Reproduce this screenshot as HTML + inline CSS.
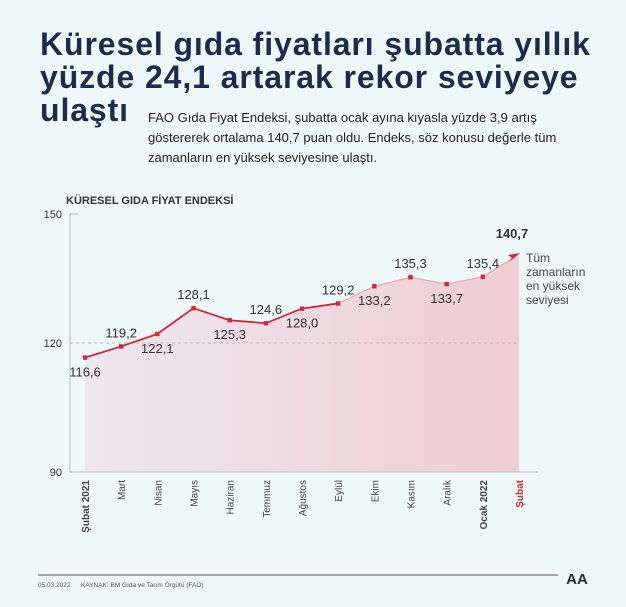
<!DOCTYPE html>
<html><head><meta charset="utf-8"><style>
body{margin:0;width:626px;height:607px;background:#eef8f8;font-family:"Liberation Sans",sans-serif;overflow:hidden;position:relative}
#title{position:absolute;left:40px;top:28px;font-size:32px;font-weight:bold;color:#1d2b4c;line-height:33px;letter-spacing:0.9px;white-space:nowrap}
#sub{position:absolute;left:148px;top:108px;font-size:13px;color:#222;line-height:20px;width:418px}
</style></head><body>
<div id="title">Küresel gıda fiyatları şubatta yıllık<br>yüzde 24,1 artarak rekor seviyeye<br>ulaştı</div>
<div id="sub">FAO Gıda Fiyat Endeksi, şubatta ocak ayına kıyasla yüzde 3,9 artış<br>göstererek ortalama 140,7 puan oldu. Endeks, söz konusu değerle tüm<br>zamanların en yüksek seviyesine ulaştı.</div>
<svg id="chart" width="626" height="607" style="position:absolute;left:0;top:0">
<defs><linearGradient id="g" x1="0" x2="1" y1="0" y2="0"><stop offset="0" stop-color="#ece8ee"/><stop offset="1" stop-color="#f0cdd3"/></linearGradient></defs>
<text x="66" y="204" font-size="11" font-weight="bold" fill="#333">KÜRESEL GIDA FİYAT ENDEKSİ</text>
<g id="plot"></g>
<line x1="38" y1="575" x2="558" y2="575" stroke="#555" stroke-width="1"/>
<text x="38" y="587" font-size="6.5" fill="#555">05.03.2022</text>
<text x="81" y="587" font-size="6.5" fill="#555">KAYNAK: BM Gıda ve Tarım Örgütü (FAO)</text>
<text x="577" y="584" font-size="15" font-weight="bold" fill="#1d2b4c" text-anchor="middle">AA</text>
</svg>
<script>
const categories=["Şubat 2021","Mart","Nisan","Mayıs","Haziran","Temmuz","Ağustos","Eylül","Ekim","Kasım","Aralık","Ocak 2022","Şubat"];
const values=[116.6,119.2,122.1,128.1,125.3,124.6,128.0,129.2,133.2,135.3,133.7,135.4,140.7];
const valueLabels=["116,6","119,2","122,1","128,1","125,3","124,6","128,0","129,2","133,2","135,3","133,7","135,4","140,7"];
const labelAbove=[false,true,false,true,false,true,false,true,false,true,false,true,true];
const yTicks=[90,120,150];
const NS="http://www.w3.org/2000/svg";
const g=document.getElementById('plot');
const x=i=>85+i*(519-85)/(categories.length-1);
const y=v=>472-(v-90)*(472-214)/60;
function mk(t,a,p){const e=document.createElementNS(NS,t);for(const k in a)e.setAttribute(k,a[k]);(p||g).appendChild(e);return e;}
let d="M"+x(0)+","+y(90);values.forEach((v,i)=>d+=" L"+x(i)+","+y(v));d+=" L"+x(values.length-1)+","+y(90)+"Z";
const area=mk('path',{d:d,fill:'url(#g)'});


const ax=mk('path',{d:`M78,214 L70,214 L70,472 L538,472`,fill:'none',stroke:'#bbb','stroke-width':1});


yTicks.forEach(t=>{
 const tx=mk('text',{x:62,y:y(t)+4,'font-size':11,fill:'#333','text-anchor':'end'});tx.textContent=t;
 
 
 if(t===120){const gl=mk('line',{x1:70,x2:520,y1:y(t),y2:y(t),stroke:'#bbb','stroke-dasharray':'3,3'});
 
 }
});
for(let i=0;i<values.length-1;i++){
 const last=i===values.length-2;
 const ln=mk('line',{x1:x(i),y1:y(values[i]),x2:last?x(i+1)-6:x(i+1),y2:last?y(values[i+1])+4:y(values[i+1]),stroke:i>=7?'#e8a3ad':'#d0283a','stroke-width':i>=7?1.2:1.8});
 
 
}
values.forEach((v,i)=>{
 const last=i===values.length-1;
 if(!last){const p=mk('rect',{x:x(i)-2.2,y:y(v)-2.2,width:4.4,height:4.4,fill:'#d0283a'});
 
 }
 else{const a=mk('path',{d:`M${x(i)+1},${y(v)-1} l-12,2 l4,3 l-3,4 z`,fill:'#d0283a'});
 
 }
 const lt=mk('text',{x:x(i)+(last?-7:0),y:labelAbove[i]?y(v)-(last?16:9):y(v)+19,'font-size':13,'font-weight':last?'bold':'normal',fill:'#333','text-anchor':'middle'});
 lt.textContent=valueLabels[i];
 
 
 const c=mk('text',{transform:`translate(${x(i)+4},480) rotate(-90)`,'font-size':10,'text-anchor':'end',fill:i===values.length-1?'#d0283a':'#444','font-weight':(i===0||i>=values.length-2)?'bold':'normal'});
 c.textContent=categories[i];
 
 
});
const note=["Tüm","zamanların","en yüksek","seviyesi"];
note.forEach((s,k)=>{const t=mk('text',{x:526,y:262+k*14,'font-size':12,fill:'#444'});t.textContent=s;
 
 });
</script>
</body></html>
